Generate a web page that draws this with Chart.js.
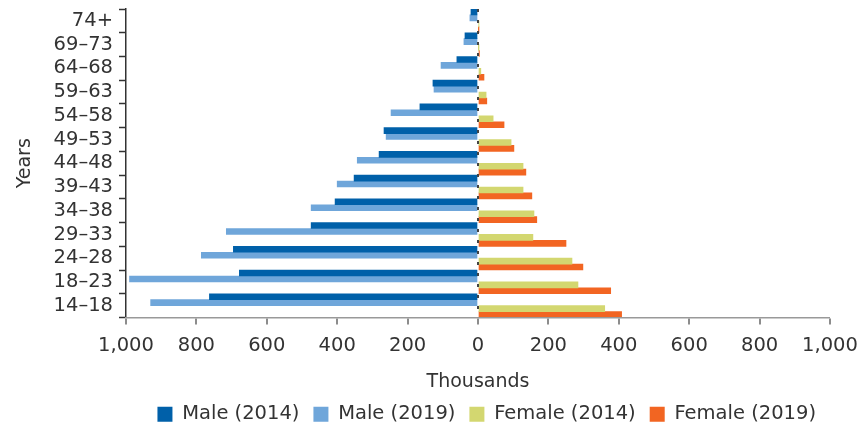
<!DOCTYPE html>
<html>
<head>
<meta charset="utf-8">
<script src="https://cdn.jsdelivr.net/npm/chart.js@4/dist/chart.umd.min.js"></script>
<style>
  html, body { margin: 0; padding: 0; background: #fff; }
  #wrap { width: 868px; height: 429px; }
</style>
</head>
<body>
<div id="wrap"><canvas id="grafico"></canvas></div>
<script>
// Datos (miles), de arriba hacia abajo
const grupos = ['74+', '69–73', '64–68', '59–63', '54–58', '49–53', '44–48', '39–43', '34–38', '29–33', '24–28', '18–23', '14–18']
const hombres2014 = [20, 37, 60, 128, 165, 267, 281, 352, 406, 474, 695, 678, 763]
const hombres2019 = [23, 40, 105, 125, 247, 261, 343, 400, 474, 715, 786, 990, 930]
const mujeres2014 = [2, 1, 8, 23, 43, 94, 128, 128, 159, 156, 267, 284, 360]
const mujeres2019 = [1, 4, 17, 25, 74, 102, 136, 153, 167, 250, 298, 377, 408]
const ticksX = [-1000, -800, -600, -400, -200, 0, 200, 400, 600, 800, 1000]

const fuente = "'DejaVu Sans', sans-serif"
const gris = '#333'

const data = {
    labels: grupos,
    datasets: [
        { label: 'Male (2014)', data: hombres2014.map(v => -v), backgroundColor: '#0060a9' },
        { label: 'Male (2019)', data: hombres2019.map(v => -v), backgroundColor: '#6fa6da' },
        { label: 'Female (2014)', data: mujeres2014, backgroundColor: '#d3d770' },
        { label: 'Female (2019)', data: mujeres2019, backgroundColor: '#f26522' },
    ],
}

const config = {
    type: 'bar',
    data: data,
    options: {
        indexAxis: 'y',
        responsive: true,
        maintainAspectRatio: false,
        animation: false,
        layout: { padding: { top: 9, right: 38, left: 0, bottom: -5 } },
        datasets: { bar: { categoryPercentage: 1, barPercentage: 1 } },
        plugins: {
            tooltip: { enabled: false },
            legend: {
                position: 'bottom',
                align: 'end',
                labels: {
                    boxWidth: 15, boxHeight: 15, padding: 14,
                    color: gris,
                    font: { family: fuente, size: 19.5 }
                }
            }
        },
        scales: {
            x: {
                type: 'linear',
                min: -1000, max: 1000,
                afterBuildTicks: s => { s.ticks = ticksX.map(v => ({ value: v })) },
                afterFit: s => { s.height = 73 },
                ticks: {
                    color: gris, padding: 10,
                    font: { family: fuente, size: 19.5 },
                    callback: v => Math.abs(v).toLocaleString('en-US')
                },
                grid: {
                    z: 1,
                    color: c => c.tick && c.tick.value === 0 ? '#444' : 'rgba(0,0,0,0)',
                    lineWidth: c => c.tick && c.tick.value === 0 ? 2 : 0,
                    tickColor: '#666', tickWidth: 1.5, tickLength: 7
                },
                border: { z: 2, color: '#999', width: 1.5, dash: [3, 8] },
                title: {
                    display: true, text: 'Thousands', color: gris,
                    font: { family: fuente, size: 19 }, padding: { top: 0, bottom: -3 }
                }
            },
            y: {
                afterFit: s => { s.width = 126; s.paddingTop = 0; s.paddingBottom = 0 },
                ticks: {
                    color: gris, padding: 6, autoSkip: false,
                    font: { family: fuente, size: 19.5 }
                },
                grid: {
                    drawOnChartArea: false, offset: true,
                    tickColor: '#333', tickWidth: 1.5, tickLength: 7
                },
                border: { color: '#333', width: 1.5 },
                title: {
                    display: true, text: 'Years', color: gris,
                    font: { family: fuente, size: 19 }, padding: { top: 14, bottom: 0 }
                }
            }
        }
    },
}

let chart1
function grafico1(config) {
    const ctx = document.getElementById('grafico')
    if (chart1) chart1.destroy()
    chart1 = new Chart(ctx, config)
}
grafico1(config)
</script>
</body>
</html>
